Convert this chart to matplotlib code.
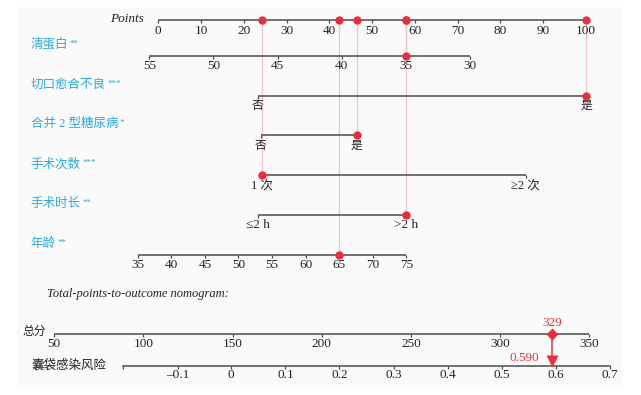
import matplotlib
matplotlib.use("Agg")
import matplotlib.pyplot as plt
from matplotlib.patches import Rectangle

plt.rcParams['font.family'] = ['Liberation Serif', 'Noto Sans CJK SC', 'DejaVu Sans']

# ---------------- data ----------------
points_ticks = [0, 10, 20, 30, 40, 50, 60, 70, 80, 90, 100]

albumin_labels = ['55', '50', '45', '40', '35', '30']
albumin_points = [-2.1, 12.9, 27.9, 42.9, 57.9, 72.9]

wound_labels = ['否', '是']
wound_points = [23.2, 100.0]

diabetes_labels = ['否', '是']
diabetes_points = [24.0, 46.4]

count_labels = ['1 次', '≥2 次']
count_points = [24.2, 85.9]

duration_labels = ['≤2 h', '>2 h']
duration_points = [23.2, 58.0]

age_labels = ['35', '40', '45', '50', '55', '60', '65', '70', '75']
age_points = [-4.8, 3.05, 10.9, 18.75, 26.6, 34.45, 42.3, 50.15, 58.0]

var_names = ['清蛋白', '切口愈合不良', '合并 2 型糖尿病', '手术次数', '手术时长', '年龄']
var_signif = ['**', '***', '*', '***', '**', '**']

# selected patient: points contributed by each variable
selected_points = [57.9, 100.0, 46.4, 24.2, 58.0, 42.3]
total_score = 329
predicted_risk = 0.590

total_ticks = [50, 100, 150, 200, 250, 300, 350]
risk_labels = ['', '-0.1', '0', '0.1', '0.2', '0.3', '0.4', '0.5', '0.6', '0.7']
risk_total = [88.7, 119.1, 149.2, 179.6, 209.9, 240.3, 270.6, 301.0, 331.3, 361.7]

# ---------------- style ----------------
W, H = 641, 395
DPI = 100
AX_COL = '#4a4a4a'
BLUE = '#29a9e1'
RED = '#e8303a'
PINK = '#f6c0c8'
TXT = '#222222'
FS = 9.5

fig = plt.figure(figsize=(W / DPI, H / DPI), dpi=DPI)

# top axes: x in "points" units, y in row layout units (pixels from top)
ax = fig.add_axes([0, 0, 1, 1])
ax.set_xlim(-37.01, 112.86)
ax.set_ylim(H, 0)
ax.axis('off')
ax.add_patch(Rectangle((17 / W, 1 - 388 / H), (622 - 17) / W, (388 - 7) / H,
                       transform=fig.transFigure, facecolor='#fafafa',
                       edgecolor='none', zorder=0))

# bottom axes: x in total-points units
bx = fig.add_axes([0, 0, 1, 1])
bx.set_xlim(19.55, 379.0)
bx.set_ylim(H, 0)
bx.axis('off')

TICK = 3.0
LW = 1.1


def draw_scale(a, xs, labels, y, dy=10.5, color=AX_COL, lw=LW, fs=FS):
    a.plot([min(xs), max(xs)], [y, y], color=color, lw=lw, solid_capstyle='butt', zorder=2)
    a.vlines(xs, y, y + TICK, color=color, lw=0.9, zorder=2)
    for x, lab in zip(xs, labels):
        if lab:
            a.text(x, y + dy, lab, ha='center', va='center', fontsize=fs, color=TXT)


rows = [55.5, 95.5, 135, 175, 215, 254.5]
Y_POINTS = 20

# Points axis
draw_scale(ax, points_ticks, [str(t) for t in points_ticks], Y_POINTS)
ax.text(-3.4, Y_POINTS - 1.5, 'Points', ha='right', va='center', fontsize=FS,
        style='italic', color=TXT)

scales = [
    (albumin_points, albumin_labels, FS),
    (wound_points, wound_labels, 8.5),
    (diabetes_points, diabetes_labels, 8.5),
    (count_points, count_labels, 9),
    (duration_points, duration_labels, FS),
    (age_points, age_labels, FS),
]

for (xs, labs, fs), y, name, sig in zip(scales, rows, var_names, var_signif):
    draw_scale(ax, xs, labs, y, dy=10.5, fs=fs)
    t = ax.text(-29.8, y - 11, name, ha='left', va='center', fontsize=9, color=BLUE)
    ax.annotate(sig, xy=(1, 1), xycoords=t, xytext=(1.0, -1), textcoords='offset points',
                ha='left', va='top', fontsize=6.5, color=BLUE)

# selected-patient markers and guide lines
for p, y in zip(selected_points, rows):
    ax.plot([p, p], [Y_POINTS, y], color=PINK, lw=0.9, zorder=1)
    ax.plot([p], [y], 'o', color=RED, ms=6, mec='none', zorder=4)
    ax.plot([p], [Y_POINTS], 'o', color=RED, ms=6, mec='none', zorder=4)

# ---------------- bottom part ----------------
ax.text(-26.0, 294, 'Total-points-to-outcome nomogram:', ha='left', va='center',
        fontsize=9, style='italic', color=TXT)

Y_TOTAL = 334
Y_RISK = 366
draw_scale(bx, total_ticks, [str(t) for t in total_ticks], Y_TOTAL, dy=10)
bx.text(19.55 + 22 / 1.7833, Y_TOTAL - 2.5, '总分', ha='left', va='center',
        fontsize=8.5, color=TXT)

bx.plot([min(risk_total), max(risk_total)], [Y_RISK, Y_RISK], color=AX_COL, lw=LW, zorder=2)
bx.vlines(risk_total, Y_RISK, Y_RISK + TICK, color=AX_COL, lw=0.9, zorder=2)
for x, lab in zip(risk_total, risk_labels):
    if lab:
        bx.text(x, Y_RISK + 9.5, lab.replace('-', '\u2013'), ha='center', va='center',
                fontsize=FS, color=TXT)
bx.text(19.55 + 31 / 1.7833, Y_RISK - 1, '囊袋感染风险', ha='left', va='center',
        fontsize=9, color=TXT)

# total score marker and risk arrow
bx.plot([total_score, total_score], [Y_TOTAL, Y_RISK - 6], color=RED, lw=1.1, zorder=3)
bx.plot([total_score], [Y_TOTAL], 'D', color=RED, ms=6, mec='none', zorder=4)
bx.plot([total_score], [Y_RISK - 5], 'v', color=RED, ms=8, mec='none', zorder=4)
bx.text(total_score, Y_TOTAL - 11.5, str(total_score), ha='center', va='center',
        fontsize=FS, color=RED)
bx.text(total_score - 7, Y_RISK - 8, f'{predicted_risk:.3f}', ha='right', va='center',
        fontsize=FS, color=RED)

fig.savefig('out.png', dpi=DPI)
